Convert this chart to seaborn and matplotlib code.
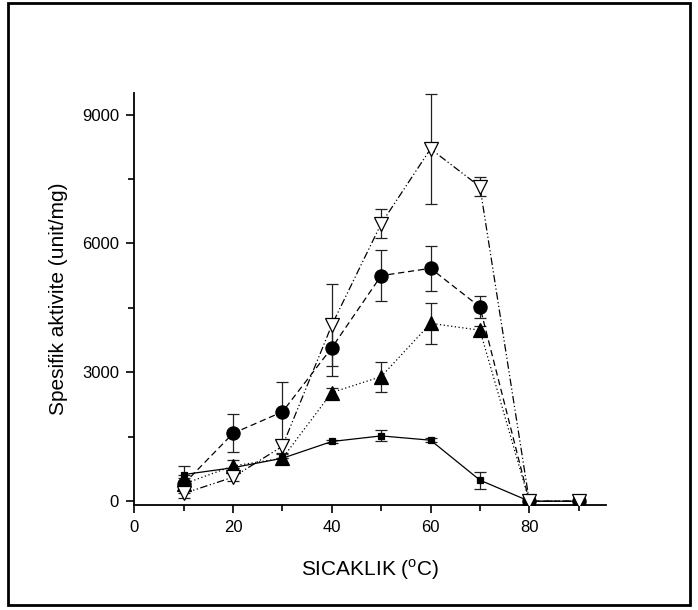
import numpy as np
import pandas as pd
import matplotlib
matplotlib.use("Agg")
import matplotlib.pyplot as plt
from matplotlib.patches import Rectangle
import seaborn as sns

# Temperature (°C) and specific activity (unit/mg) for four preparations
temperature = [10, 20, 30, 40, 50, 60, 70, 80, 90]

act_square = [620, 780, 1000, 1390, 1520, 1420, 490, 0, 0]
err_square = [200, 0, 0, 40, 130, 50, 200, 0, 0]

act_circle = [400, 1580, 2080, 3570, 5250, 5420, 4520, 0, 0]
err_circle = [200, 440, 690, 650, 600, 520, 260, 0, 0]

act_triangle = [400, 820, 1000, 2530, 2900, 4140, 3980, 0, 0]
err_triangle = [150, 150, 100, 100, 350, 480, 100, 0, 0]

act_nabla = [180, 560, 1280, 4100, 6460, 8200, 7320, 0, 0]
err_nabla = [100, 100, 150, 950, 330, 1280, 220, 0, 0]

xticks = [0, 20, 40, 60, 80]
yticks = [0, 3000, 6000, 9000]

sns.set_style("ticks")
plt.rcParams["font.family"] = ["Liberation Sans", "DejaVu Sans"]
plt.rcParams["mathtext.fontset"] = "custom"
plt.rcParams["mathtext.rm"] = "Liberation Sans"
plt.rcParams["text.color"] = "black"
plt.rcParams["axes.labelcolor"] = "black"

fig = plt.figure(figsize=(6.98, 6.10), dpi=100)
ax = fig.add_axes([0.1924, 0.172, 0.868 - 0.1924, 0.8475 - 0.172])

series = [
    ("square", act_square, err_square, "s", 4.5, "black", (None, None)),
    ("circle", act_circle, err_circle, "o", 9.5, "black", (5, 3)),
    ("triangle", act_triangle, err_triangle, "^", 10, "black", (1, 2)),
    ("nabla", act_nabla, err_nabla, "v", 10, "white", (6, 2, 1, 2, 1, 2)),
]

for name, y, e, mk, ms, fc, dash in series:
    df = pd.DataFrame({"T": temperature, "A": y})
    ax.errorbar(temperature, y, yerr=e, fmt="none", ecolor="#222222",
                elinewidth=0.9, capsize=4, capthick=0.9, zorder=2)
    line_kw = dict(color="black", linewidth=0.9)
    if dash[0] is not None:
        line_kw["dashes"] = dash
    sns.lineplot(data=df, x="T", y="A", ax=ax, marker=mk, markersize=ms,
                 markerfacecolor=fc, markeredgecolor="black",
                 markeredgewidth=0.9, zorder=3, **line_kw)

ax.set_xlim(0, 95.5)
ax.set_ylim(-90, 9500)
ax.set_xticks(xticks)
ax.set_xticks([10, 30, 50, 70, 90], minor=True)
ax.set_yticks(yticks)
ax.set_yticks([1500, 4500, 7500], minor=True)
ax.set_yticklabels([str(v) for v in yticks])
ax.set_xticklabels([str(v) for v in xticks])
ax.tick_params(axis="both", which="major", direction="out", length=6,
               width=1.2, labelsize=12, colors="black", pad=5)
ax.tick_params(axis="both", which="minor", direction="out", length=4,
               width=1.2, colors="black")

for side in ("top", "right"):
    ax.spines[side].set_visible(False)
for side in ("left", "bottom"):
    ax.spines[side].set_linewidth(1.3)
    ax.spines[side].set_color("black")

ax.set_xlabel(r"SICAKLIK ($^{\rm o}$C)", fontsize=15, labelpad=16,
              color="black")
ax.set_ylabel("Spesifik aktivite (unit/mg)", fontsize=15, labelpad=10,
              color="black")

# Outer frame around the whole figure
fig.patches.append(Rectangle((8 / 698, 5 / 610), 682 / 698, 602 / 610,
                             transform=fig.transFigure, fill=False,
                             edgecolor="black", linewidth=2))

fig.savefig("out.png", dpi=100)
